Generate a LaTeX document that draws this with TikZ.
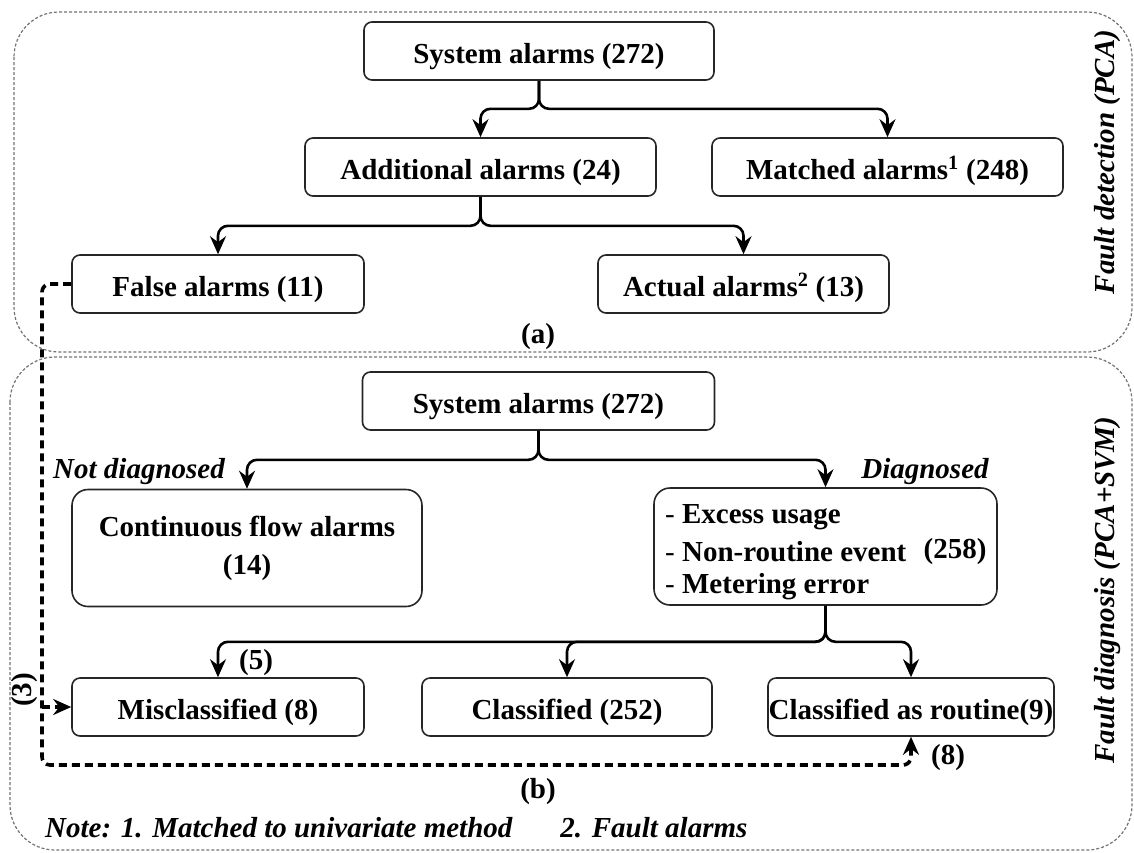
\documentclass[tikz,border=0pt]{standalone}
\usepackage{fontspec}
\setmainfont{Liberation Serif}
\usetikzlibrary{arrows.meta}
\begin{document}
\begin{tikzpicture}[x=1pt,y=-1pt,
  box/.style={draw=black!85, line width=1.6pt, rounded corners=8pt, inner sep=0pt,
    font=\fontsize{29}{38}\selectfont\bfseries, align=center},
  onebox/.style={box, text height=24pt, text depth=0pt, minimum height=58pt},
  bigbox/.style={box, rounded corners=16pt},
  tip/.style={-{Stealth[length=18pt,width=16pt,inset=6pt]}},
  flow/.style={tip, line width=2.6pt, rounded corners=10pt},
  back/.style={tip, line width=3.6pt, dash pattern=on 8pt off 5pt, rounded corners=8pt},
  frame/.style={draw=black!55, line width=1.2pt, dash pattern=on 3pt off 2pt, rounded corners=45pt},
  lbl/.style={inner sep=0pt, font=\fontsize{29}{34}\selectfont\bfseries},
  boldital/.style={inner sep=0pt, font=\fontsize{29}{34}\selectfont\bfseries\itshape},
]
\useasboundingbox (0,0) rectangle (1134,852);

% section frames
\draw[frame] (14,12) rectangle (1132,352);
\draw[frame] (10,357) rectangle (1132,850);

% (a) fault detection
\node[onebox, minimum width=350pt] (sys1) at (539,51) {System alarms (272)};
\node[onebox, minimum width=351pt] (add) at (480.5,167) {Additional alarms (24)};
\node[onebox, minimum width=351pt] (match) at (887.5,167) {Matched alarms\textsuperscript{1} (248)};
\node[onebox, minimum width=292pt] (false) at (218,284) {False alarms (11)};
\node[onebox, minimum width=291pt] (actual) at (743.5,284) {Actual alarms\textsuperscript{2} (13)};

\draw[flow] (sys1.south) -- ++(0,28) -| (add.north);
\draw[flow] (sys1.south) -- ++(0,28) -| (match.north);
\draw[flow] (add.south) -- ++(0,29) -| (false.north);
\draw[flow] (add.south) -- ++(0,29) -| (actual.north);

\node[lbl] (capa) at (538,337) {(a)};
\node[boldital, rotate=90] (sidea) at (1108,162) {Fault detection (PCA)};

% (b) fault diagnosis
\node[onebox, minimum width=352pt] (sys2) at (538.5,401) {System alarms (272)};
\node[bigbox, minimum width=350pt, minimum height=117pt] (cont) at (247,548) {Continuous flow alarms\\(14)};
\node[bigbox, minimum width=343pt, minimum height=117pt] (diag) at (825.5,546.5) {};
\node[lbl, anchor=west] (d1) at (665,517) {\mdseries- \bfseries Excess usage};
\node[lbl, anchor=west] (d2) at (665,552) {\mdseries- \bfseries Non-routine event};
\node[lbl, anchor=west] (d3) at (665,587) {\mdseries- \bfseries Metering error};
\node[lbl] (d4) at (955,552) {(258)};

\node[onebox, minimum width=292pt] (mis) at (218,707) {Misclassified (8)};
\node[onebox, minimum width=290pt] (cls) at (567,707) {Classified (252)};
\node[onebox, minimum width=286pt] (rout) at (911,707) {Classified as routine(9)};

\draw[flow] (sys2.south) -- ++(0,29) -| (cont.north);
\draw[flow] (sys2.south) -- ++(0,29) -| (diag.north);
\draw[flow] (diag.south) -- ++(0,36) -| (mis.north);
\draw[flow] (diag.south) -- ++(0,36) -| (cls.north);
\draw[flow] (diag.south) -- ++(0,36) -| (rout.north);

\node[boldital] (nd) at (139,472) {Not diagnosed};
\node[boldital] (dg) at (925,472) {Diagnosed};
\node[lbl] (n5) at (256,663) {(5)};
\node[lbl] (n8) at (948,758) {(8)};
\node[lbl, rotate=90] (n3) at (25,690) {(3)};

% false alarms routed back into the diagnosis results
\coordinate (loop) at (42,765);
\draw[back] (false.west) -| (loop) -| (rout.south);
\draw[back] (loop |- mis.west) -- (mis.west);

\node[lbl] (capb) at (538,792) {(b)};
\node[boldital, rotate=90] (sideb) at (1108,590) {Fault diagnosis (PCA+SVM)};
\node[boldital, anchor=west] (note) at (45,828) {Note: 1. Matched to univariate method\hspace{48pt}2. Fault alarms};
\end{tikzpicture}
\end{document}
